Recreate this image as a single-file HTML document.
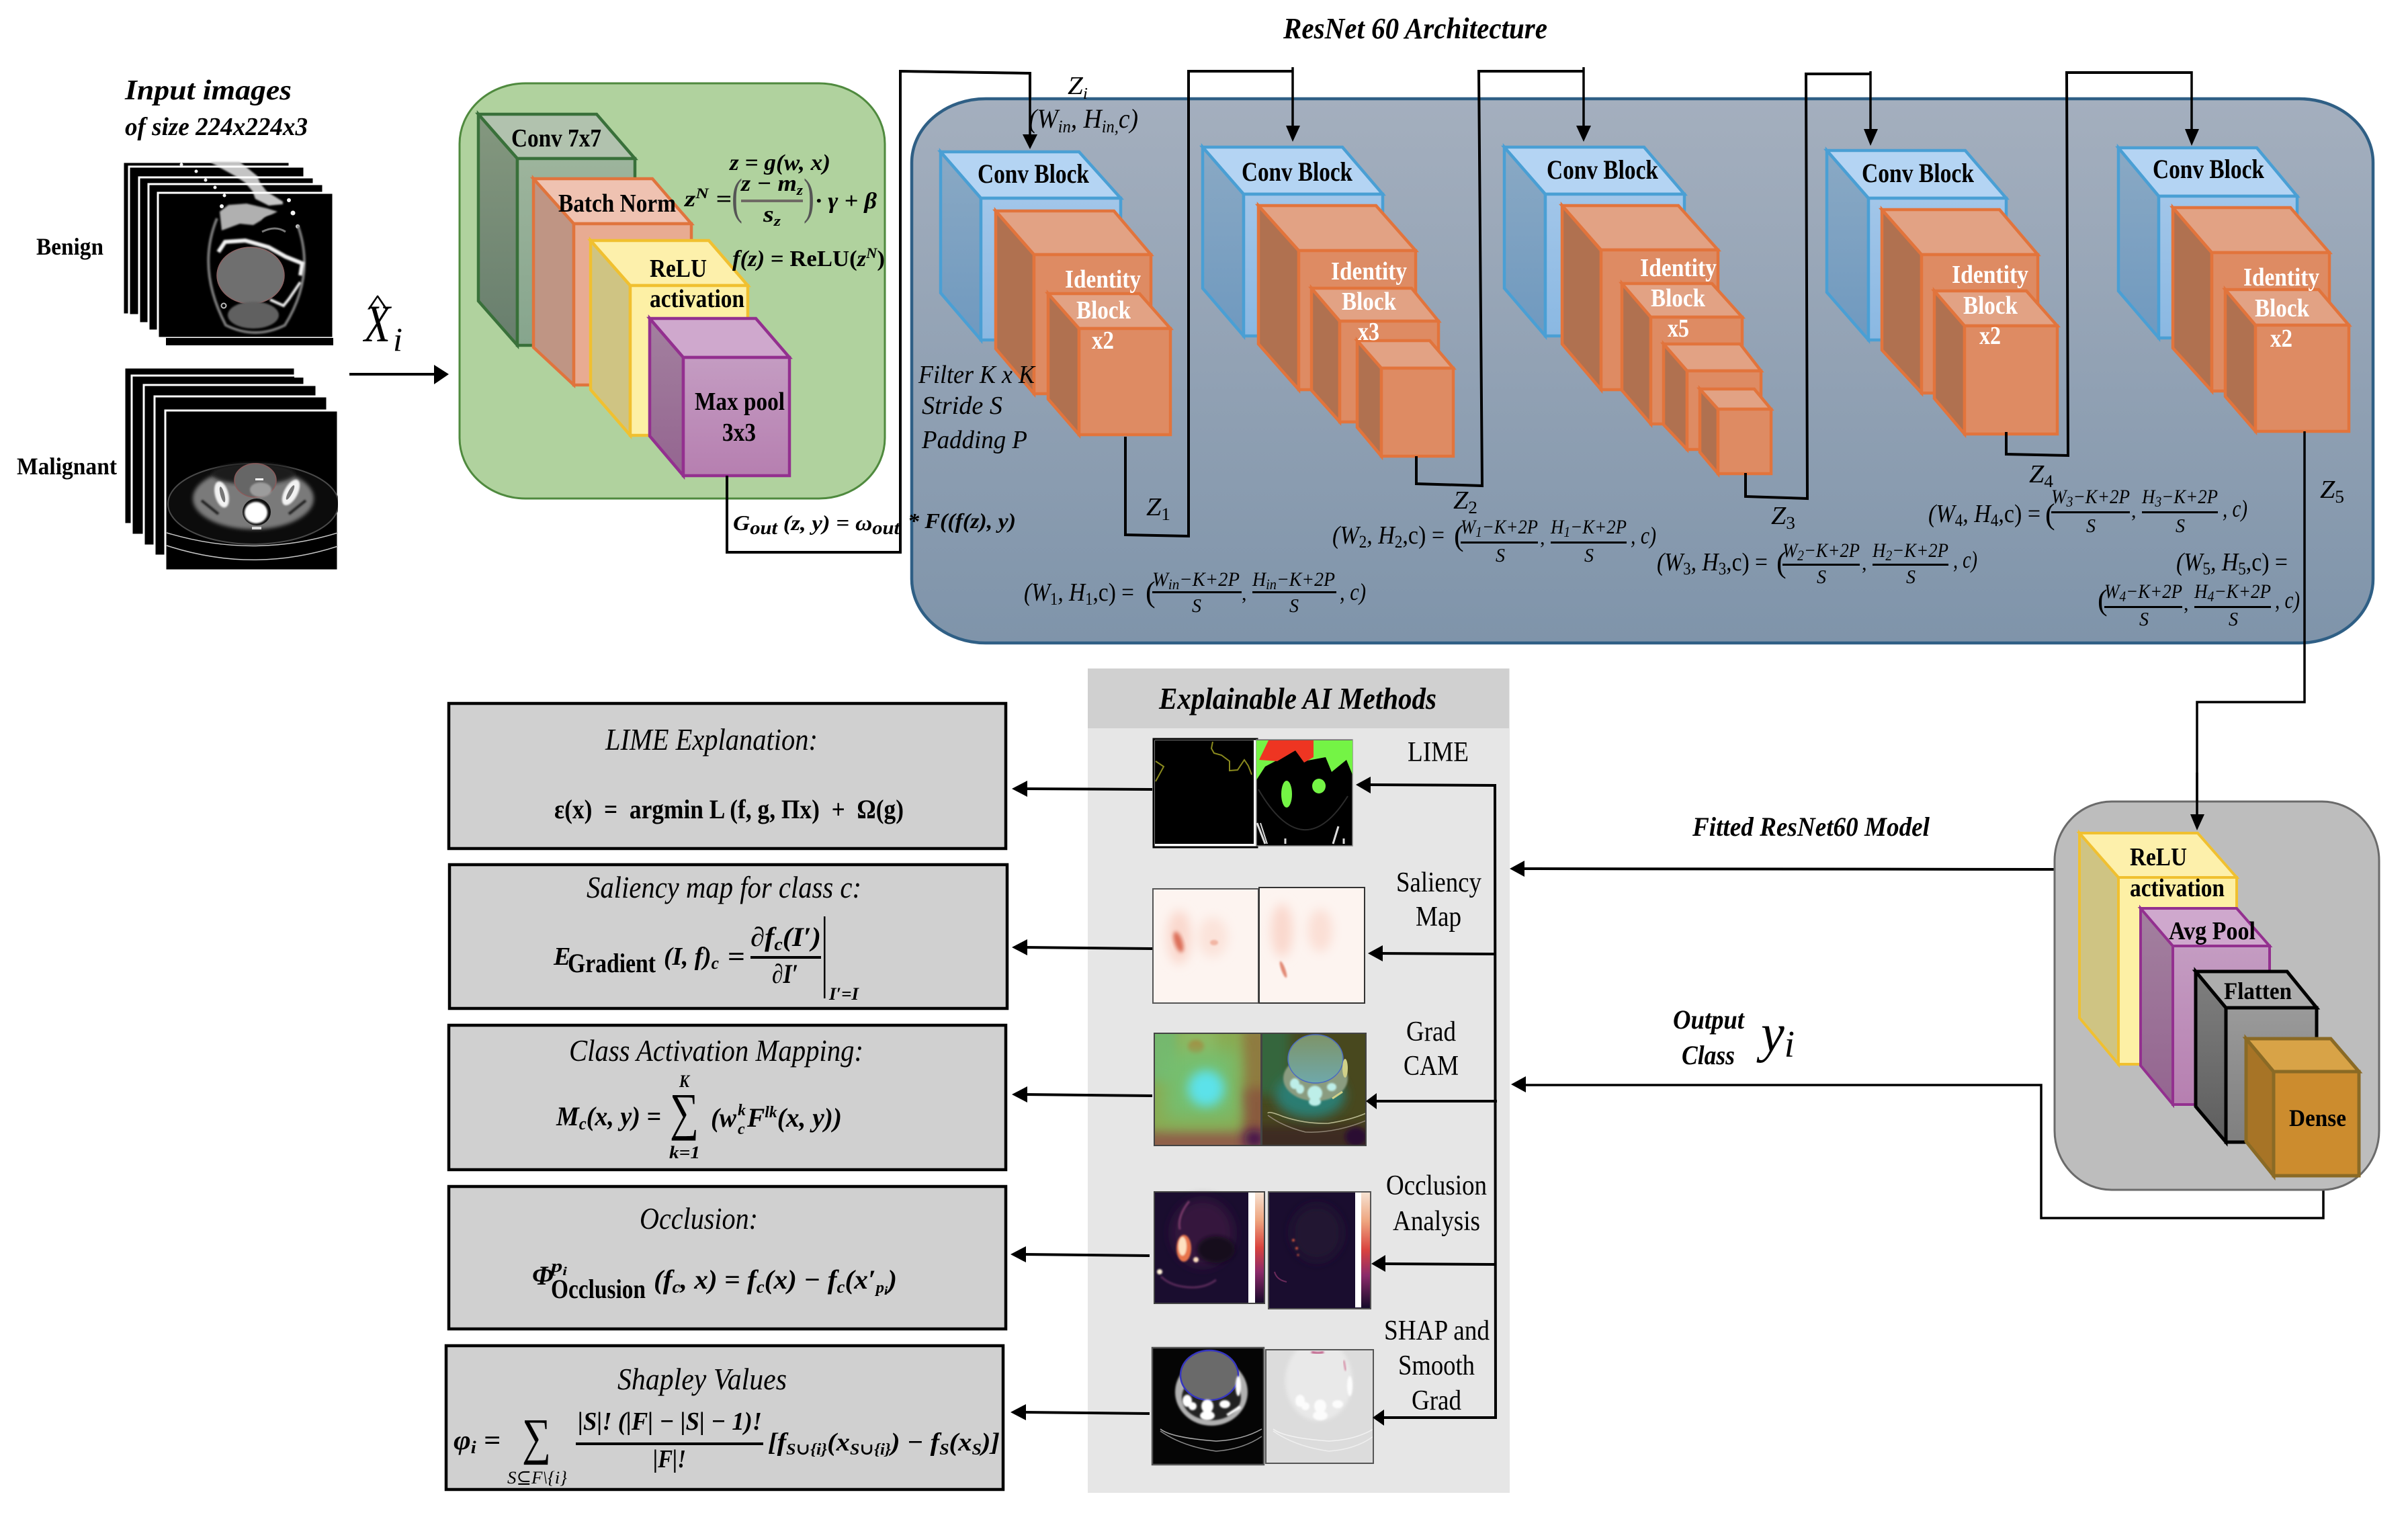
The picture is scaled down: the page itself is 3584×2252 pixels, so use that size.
<!DOCTYPE html>
<html><head><meta charset="utf-8"><style>
html,body{margin:0;padding:0;background:#fff;width:3584px;height:2252px;overflow:hidden}
svg{display:block}
text{font-family:"Liberation Serif","DejaVu Serif",serif;fill:#000}
.b{font-weight:700}.i{font-style:italic}.bi{font-weight:700;font-style:italic}
.w{fill:#fff;font-weight:700}
.l{fill:none;stroke:#000;stroke-width:4;stroke-linejoin:miter}
.l4{fill:none;stroke:#000;stroke-width:3.5}
.bs{fill:url(#blS);stroke:#4a9fd4;stroke-width:4.5}.bt{fill:#b4d4f3;stroke:#4a9fd4;stroke-width:4.5}.bf{fill:url(#blF);stroke:#4a9fd4;stroke-width:4.5}
.os{fill:#b07150;stroke:#e2743c;stroke-width:4.5}.ot{fill:#e2a284;stroke:#e2743c;stroke-width:4.5}.of{fill:#de8b63;stroke:#e2743c;stroke-width:4.5}
.bx{fill:#d0d0d0;stroke:#000;stroke-width:4.5}
</style></head><body>
<svg xmlns="http://www.w3.org/2000/svg" width="3584" height="2252" viewBox="0 0 3584 2252">
<defs>
<linearGradient id="blS" x1="0" y1="0" x2="0" y2="1"><stop offset="0" stop-color="#8aa9c4"/><stop offset="1" stop-color="#6f99bf"/></linearGradient>
<linearGradient id="blF" x1="0" y1="0" x2="0" y2="1"><stop offset="0" stop-color="#a2c6e9"/><stop offset="1" stop-color="#8ab8e2"/></linearGradient>
<linearGradient id="pan" x1="0" y1="0" x2="0" y2="1"><stop offset="0" stop-color="#a4afbe"/><stop offset="1" stop-color="#7f94aa"/></linearGradient>
<linearGradient id="cvF" x1="0" y1="0" x2="0" y2="1"><stop offset="0" stop-color="#9db49c"/><stop offset="1" stop-color="#86a58d"/></linearGradient>
<linearGradient id="cvS" x1="0" y1="0" x2="0" y2="1"><stop offset="0" stop-color="#84987f"/><stop offset="1" stop-color="#687e6d"/></linearGradient>
<linearGradient id="mpF" x1="0" y1="0" x2="0" y2="1"><stop offset="0" stop-color="#c49cc2"/><stop offset="1" stop-color="#b67fb0"/></linearGradient>
<linearGradient id="mpS" x1="0" y1="0" x2="0" y2="1"><stop offset="0" stop-color="#a3809f"/><stop offset="1" stop-color="#946590"/></linearGradient>
<linearGradient id="flF" x1="0" y1="0" x2="0" y2="1"><stop offset="0" stop-color="#9a9a9a"/><stop offset="1" stop-color="#7f7f7f"/></linearGradient>
<linearGradient id="flS" x1="0" y1="0" x2="0" y2="1"><stop offset="0" stop-color="#7f7f7f"/><stop offset="1" stop-color="#5e5e5e"/></linearGradient>
<linearGradient id="cbar" x1="0" y1="0" x2="0" y2="1"><stop offset="0" stop-color="#f6e2d2"/><stop offset=".25" stop-color="#eea57f"/><stop offset=".5" stop-color="#d9433f"/><stop offset=".72" stop-color="#8c2a6a"/><stop offset="1" stop-color="#170a2b"/></linearGradient>
<linearGradient id="tumG" x1="0" y1="0" x2="0" y2="1"><stop offset="0" stop-color="#7e9468"/><stop offset="1" stop-color="#6fa8aa"/></linearGradient>
<filter id="f1" x="-30%" y="-30%" width="160%" height="160%"><feGaussianBlur stdDeviation="1.2"/></filter>
<filter id="f3" x="-30%" y="-30%" width="160%" height="160%"><feGaussianBlur stdDeviation="3"/></filter>
<filter id="f8" x="-50%" y="-50%" width="200%" height="200%"><feGaussianBlur stdDeviation="8"/></filter>
<filter id="f14" x="-60%" y="-60%" width="220%" height="220%"><feGaussianBlur stdDeviation="14"/></filter>
<clipPath id="cG1"><rect x="1718" y="1538" width="159" height="167"/></clipPath>
<clipPath id="cG2"><rect x="1878" y="1538" width="155" height="167"/></clipPath>
<clipPath id="cB"><rect x="236" y="288" width="260" height="226"/></clipPath>
<clipPath id="cM"><rect x="247" y="612" width="256" height="237"/></clipPath>
<clipPath id="cS1"><rect x="1716" y="1323" width="157" height="170"/></clipPath>
<clipPath id="cS2"><rect x="1874" y="1321" width="157" height="172"/></clipPath>
<clipPath id="cH1"><rect x="1716" y="2007" width="164" height="172"/></clipPath>
<clipPath id="cH2"><rect x="1885" y="2010" width="158" height="167"/></clipPath>
</defs>
<rect width="3584" height="2252" fill="#fff"/>

<!-- Title and input stacks -->
<text class="bi" x="186" y="148" font-size="42" textLength="248" lengthAdjust="spacingAndGlyphs">Input images</text>
<text class="bi" x="186" y="201" font-size="38" textLength="272" lengthAdjust="spacingAndGlyphs">of size 224x224x3</text>
<text class="b" x="54" y="379" font-size="36" textLength="100" lengthAdjust="spacingAndGlyphs">Benign</text>
<text class="b" x="25" y="706" font-size="36" textLength="149" lengthAdjust="spacingAndGlyphs">Malignant</text>

<g stroke="#fff" stroke-width="3">
<rect x="183" y="241" width="248" height="227"/>
<rect x="192" y="248" width="261" height="221"/>
<rect x="207" y="264" width="260" height="217"/>
<rect x="221" y="274" width="260" height="218"/>
<rect x="235" y="287" width="261" height="216"/>
</g>
<rect x="247" y="503" width="249" height="11"/>
<polygon points="312,241 357,241 383,262 387,272 397,285 421,300 421,304 400,306 380,296 376,285 365,272 350,262" fill="#c4c4c4" filter="url(#f1)"/>
<g stroke="#fff" stroke-width="3"><line x1="310" y1="248" x2="375" y2="248"/><line x1="340" y1="264" x2="392" y2="264"/><line x1="355" y1="274" x2="396" y2="274"/><line x1="365" y1="287" x2="408" y2="287"/></g>
<g fill="#f4f4f4"><circle cx="270" cy="245" r="2.5"/><circle cx="292" cy="255" r="2.5"/><circle cx="306" cy="268" r="2.5"/><circle cx="320" cy="279" r="2.5"/><circle cx="334" cy="291" r="2.5"/><circle cx="330" cy="307" r="3"/><circle cx="430" cy="298" r="3"/><circle cx="436" cy="317" r="3.5"/><circle cx="443" cy="337" r="3"/></g>
<g clip-path="url(#cB)">
<path d="M323,325 Q292,400 336,484 Q380,506 424,484 Q470,410 443,335" fill="none" stroke="#7c7c7c" stroke-width="4" filter="url(#f1)"/>
<polygon points="327,315 340,305 367,303 397,310 413,315 397,323 377,335 357,333 330,343" fill="#b0b0b0" filter="url(#f1)"/>
<ellipse cx="405" cy="330" rx="15" ry="9" fill="#000" filter="url(#f1)"/>
<path d="M390 345 Q410 335 425 345" fill="none" stroke="#777" stroke-width="3"/>
<path d="M325,375 L335,360 L365,358 L400,368 L425,382 L450,392 L447,410" fill="none" stroke="#f2f2f2" stroke-width="6" filter="url(#f1)"/>
<path d="M447,420 L430,445 L422,455 L402,446" fill="none" stroke="#ececec" stroke-width="4" filter="url(#f1)"/>
<ellipse cx="373" cy="410" rx="50" ry="42" fill="#6f6f6f" stroke="#8b6262" stroke-width="1.5"/>
<ellipse cx="377" cy="469" rx="38" ry="20" fill="#606060" filter="url(#f1)"/>
<circle cx="333" cy="455" r="3.5" fill="none" stroke="#bbb" stroke-width="2"/>
</g>

<g stroke="#fff" stroke-width="3">
<rect x="185" y="547" width="254" height="233"/>
<rect x="196" y="559" width="257" height="237"/>
<rect x="214" y="573" width="257" height="239"/>
<rect x="230" y="590" width="257" height="237"/>
<rect x="246" y="611" width="257" height="238"/>
</g>
<rect x="438" y="556" width="16" height="6" fill="#fff"/>
<g clip-path="url(#cM)">
<ellipse cx="377" cy="750" rx="127" ry="60" fill="#0c0c0c" stroke="#4a4a4a" stroke-width="2"/>
<ellipse cx="377" cy="742" rx="90" ry="46" fill="#7a7a7a" filter="url(#f3)"/>
<ellipse cx="377" cy="705" rx="62" ry="16" fill="#1c1c1c" filter="url(#f3)"/>
<path d="M300 745 L325 765 M455 745 L430 765" stroke="#222" stroke-width="4" filter="url(#f1)"/>
<ellipse cx="380" cy="715" rx="31" ry="25" fill="#666" stroke="#8b5a5a" stroke-width="1.5"/>
<ellipse cx="388" cy="729" rx="16" ry="11" fill="#9c9c9c" filter="url(#f1)"/>
<rect x="380" y="712" width="12" height="3" fill="#fff"/>
<ellipse cx="330" cy="736" rx="10" ry="20" fill="#f2f2f2" transform="rotate(-15 330 736)" filter="url(#f1)"/>
<ellipse cx="331" cy="736" rx="3" ry="12" fill="#777" transform="rotate(-15 331 736)"/>
<ellipse cx="433" cy="733" rx="10" ry="21" fill="#f2f2f2" transform="rotate(28 433 733)" filter="url(#f1)"/>
<ellipse cx="432" cy="733" rx="3" ry="12" fill="#777" transform="rotate(28 432 733)"/>
<ellipse cx="382" cy="762" rx="21" ry="20" fill="#111"/>
<ellipse cx="381" cy="763" rx="17" ry="16" fill="#fff" filter="url(#f1)"/>
<rect x="375" y="784" width="14" height="4" fill="#ddd"/>
<path d="M248 793 Q377 832 503 793" fill="none" stroke="#c8c8c8" stroke-width="1.5"/>
<path d="M248 812 Q377 854 503 813" fill="none" stroke="#c8c8c8" stroke-width="1.5"/>
</g>

<!-- Input arrow -->
<text class="i" x="542" y="508" font-size="78" textLength="39" lengthAdjust="spacingAndGlyphs">X</text>
<text x="546" y="469" font-size="44" textLength="32" lengthAdjust="spacingAndGlyphs">^</text>
<text class="i" x="585" y="522" font-size="50" textLength="14" lengthAdjust="spacingAndGlyphs">i</text>
<line class="l" x1="520" y1="557" x2="650" y2="557"/>
<polygon points="646,543 668,557 646,572"/>

<!-- Green block -->
<rect x="684" y="124" width="633" height="618" rx="98" ry="90" fill="#b0d29e" stroke="#4f8a3e" stroke-width="3"/>
<g stroke="#39703a" stroke-width="4.5">
<polygon points="712,170 770,236 770,514 712,448" fill="url(#cvS)"/>
<polygon points="712,170 888,170 945,236 770,236" fill="#b1c2ae"/>
<rect x="770" y="236" width="175" height="278" fill="url(#cvF)"/>
</g>
<g stroke="#e0743d" stroke-width="4.5">
<polygon points="794,266 854,333 854,573 794,517" fill="#bf9584"/>
<polygon points="794,266 971,266 1029,333 854,333" fill="#efc2b1"/>
<rect x="854" y="333" width="175" height="240" fill="#e8ab92"/>
</g>
<g stroke="#f0c030" stroke-width="4.5">
<polygon points="879,358 938,425 938,648 879,580" fill="#cfc483"/>
<polygon points="879,358 1055,358 1113,425 938,425" fill="#fdf0ab"/>
<rect x="938" y="425" width="175" height="223" fill="#fdf0a5"/>
</g>
<g stroke="#93308f" stroke-width="4.5">
<polygon points="967,474 1017,532 1017,708 967,649" fill="url(#mpS)"/>
<polygon points="967,474 1125,474 1175,532 1017,532" fill="#cfa8cd"/>
<rect x="1017" y="532" width="158" height="176" fill="url(#mpF)"/>
</g>
<text class="b" x="761" y="218" font-size="38" textLength="134" lengthAdjust="spacingAndGlyphs">Conv 7x7</text>
<text class="b" x="831" y="315" font-size="38" textLength="175" lengthAdjust="spacingAndGlyphs">Batch Norm</text>
<text class="b" x="967" y="412" font-size="38" textLength="85" lengthAdjust="spacingAndGlyphs">ReLU</text>
<text class="b" x="967" y="457" font-size="38" textLength="141" lengthAdjust="spacingAndGlyphs">activation</text>
<text class="b" x="1034" y="610" font-size="38" textLength="134" lengthAdjust="spacingAndGlyphs">Max pool</text>
<text class="b" x="1075" y="656" font-size="38" textLength="50" lengthAdjust="spacingAndGlyphs">3x3</text>
<text class="bi" x="1086" y="253" font-size="34" textLength="150" lengthAdjust="spacingAndGlyphs">z = g(w, x)</text>
<text class="bi" x="1019" y="307" font-size="34" textLength="70" lengthAdjust="spacingAndGlyphs">z<tspan dy="-12" font-size="22">N</tspan><tspan dy="12"> =</tspan></text>
<text x="1089" y="317" font-size="74" textLength="16" lengthAdjust="spacingAndGlyphs" style="fill:#555">(</text>
<text class="bi" x="1103" y="284" font-size="34" textLength="92" lengthAdjust="spacingAndGlyphs">z − m<tspan dy="6" font-size="22">z</tspan></text>
<rect x="1103" y="297" width="92" height="4" fill="#6e6a64"/>
<text class="bi" x="1136" y="330" font-size="34" textLength="26" lengthAdjust="spacingAndGlyphs">s<tspan dy="6" font-size="22">z</tspan></text>
<text x="1196" y="317" font-size="74" textLength="16" lengthAdjust="spacingAndGlyphs" style="fill:#555">)</text>
<text class="bi" x="1214" y="310" font-size="34" textLength="91" lengthAdjust="spacingAndGlyphs">· γ + β</text>
<text class="b" x="1090" y="396" font-size="34" textLength="227" lengthAdjust="spacingAndGlyphs"><tspan class="bi">f(z)</tspan> = ReLU(<tspan class="bi">z</tspan><tspan class="bi" dy="-12" font-size="22">N</tspan><tspan dy="12">)</tspan></text>

<polyline class="l" points="1082,708 1082,822 1340,822 1340,106 1533,109 1533,205"/>
<polygon points="1522,200 1544,200 1533,222"/>

<!-- Blue panel -->
<rect x="1357" y="147" width="2175" height="810" rx="110" ry="95" fill="url(#pan)" stroke="#2f5f85" stroke-width="4.5"/>
<polyline class="l4" points="1340,106 1533,109 1533,205"/>
<polygon points="1522,200 1544,200 1533,222"/>
<line class="l" x1="1340" y1="106" x2="1340" y2="824"/>
<text class="bi" x="1091" y="789" font-size="32" textLength="248" lengthAdjust="spacingAndGlyphs">G<tspan class="b" dy="6" font-size="28">out</tspan><tspan dy="-6"> (z, y) = ω</tspan><tspan class="b" dy="6" font-size="28">out</tspan></text>
<text class="bi" x="1351" y="786" font-size="32" textLength="161" lengthAdjust="spacingAndGlyphs">* F((f(z), y)</text>

<text class="bi" x="1910" y="57" font-size="44" textLength="393" lengthAdjust="spacingAndGlyphs">ResNet 60 Architecture</text>
<text class="i" x="1589" y="140" font-size="38" textLength="30" lengthAdjust="spacingAndGlyphs">Z<tspan dy="7" font-size="24">i</tspan></text>
<text class="i" x="1531" y="190" font-size="40" textLength="163" lengthAdjust="spacingAndGlyphs">(W<tspan dy="7" font-size="26">in</tspan><tspan dy="-7">, H</tspan><tspan dy="7" font-size="26">in,</tspan><tspan dy="-7">c)</tspan></text>

<!-- Block 1 -->
<polygon class="bs" points="1400,226 1460,295 1460,506 1400,436"/><polygon class="bt" points="1400,226 1606,226 1668,295 1460,295"/><rect class="bf" x="1460" y="295" width="208" height="211"/>
<polygon class="os" points="1482,314 1539,379 1539,586 1482,519"/><polygon class="ot" points="1482,314 1658,314 1713,379 1539,379"/><rect class="of" x="1539" y="379" width="174" height="207"/>
<polygon class="os" points="1560,437 1606,489 1606,647 1560,594"/><polygon class="ot" points="1560,437 1696,437 1742,489 1606,489"/><rect class="of" x="1606" y="489" width="136" height="158"/>
<text class="b" x="1455" y="272" font-size="40" textLength="166" lengthAdjust="spacingAndGlyphs">Conv Block</text>
<text class="w" x="1585" y="428" font-size="38" textLength="113" lengthAdjust="spacingAndGlyphs">Identity</text>
<text class="w" x="1602" y="474" font-size="38" textLength="81" lengthAdjust="spacingAndGlyphs">Block</text>
<text class="w" x="1625" y="519" font-size="38" textLength="33" lengthAdjust="spacingAndGlyphs">x2</text>
<text class="i" x="1367" y="570" font-size="38" textLength="173" lengthAdjust="spacingAndGlyphs">Filter K x K</text>
<text class="i" x="1372" y="616" font-size="38" textLength="120" lengthAdjust="spacingAndGlyphs">Stride S</text>
<text class="i" x="1372" y="667" font-size="38" textLength="157" lengthAdjust="spacingAndGlyphs">Padding P</text>

<!-- Block 2 -->
<polygon class="bs" points="1790,219 1851,289 1851,500 1790,429"/><polygon class="bt" points="1790,219 1998,219 2058,289 1851,289"/><rect class="bf" x="1851" y="289" width="207" height="211"/>
<polygon class="os" points="1873,306 1933,373 1933,580 1873,512"/><polygon class="ot" points="1873,306 2048,306 2107,373 1933,373"/><rect class="of" x="1933" y="373" width="174" height="207"/>
<polygon class="os" points="1952,429 1994,478 1994,628 1952,581"/><polygon class="ot" points="1952,429 2101,429 2141,478 1994,478"/><rect class="of" x="1994" y="478" width="147" height="150"/>
<polygon class="os" points="2020,507 2056,548 2056,679 2020,636"/><polygon class="ot" points="2020,507 2128,507 2163,548 2056,548"/><rect class="of" x="2056" y="548" width="107" height="131"/>
<text class="b" x="1848" y="269" font-size="40" textLength="165" lengthAdjust="spacingAndGlyphs">Conv Block</text>
<text class="w" x="1981" y="416" font-size="38" textLength="113" lengthAdjust="spacingAndGlyphs">Identity</text>
<text class="w" x="1997" y="461" font-size="38" textLength="81" lengthAdjust="spacingAndGlyphs">Block</text>
<text class="w" x="2021" y="506" font-size="38" textLength="32" lengthAdjust="spacingAndGlyphs">x3</text>

<!-- Block 3 -->
<polygon class="bs" points="2239,219 2300,289 2300,500 2239,429"/><polygon class="bt" points="2239,219 2447,219 2507,289 2300,289"/><rect class="bf" x="2300" y="289" width="207" height="211"/>
<polygon class="os" points="2325,306 2383,373 2383,580 2325,512"/><polygon class="ot" points="2325,306 2498,306 2557,372 2383,372"/><rect class="of" x="2383" y="372" width="174" height="208"/>
<polygon class="os" points="2414,422 2457,472 2457,631 2414,581"/><polygon class="ot" points="2414,422 2548,422 2593,472 2457,472"/><rect class="of" x="2457" y="472" width="136" height="159"/>
<polygon class="os" points="2476,512 2511,552 2511,669 2476,632"/><polygon class="ot" points="2476,512 2590,512 2621,552 2511,552"/><rect class="of" x="2511" y="552" width="110" height="117"/>
<polygon class="os" points="2530,579 2557,609 2557,705 2530,673"/><polygon class="ot" points="2530,579 2611,579 2636,609 2557,609"/><rect class="of" x="2557" y="609" width="79" height="96"/>
<text class="b" x="2302" y="266" font-size="40" textLength="166" lengthAdjust="spacingAndGlyphs">Conv Block</text>
<text class="w" x="2441" y="411" font-size="38" textLength="114" lengthAdjust="spacingAndGlyphs">Identity</text>
<text class="w" x="2457" y="456" font-size="38" textLength="81" lengthAdjust="spacingAndGlyphs">Block</text>
<text class="w" x="2482" y="501" font-size="38" textLength="32" lengthAdjust="spacingAndGlyphs">x5</text>

<!-- Block 4 -->
<polygon class="bs" points="2719,224 2781,295 2781,506 2719,435"/><polygon class="bt" points="2719,224 2925,224 2986,295 2781,295"/><rect class="bf" x="2781" y="295" width="205" height="211"/>
<polygon class="os" points="2801,312 2860,379 2860,585 2801,521"/><polygon class="ot" points="2801,312 2976,312 3033,379 2860,379"/><rect class="of" x="2860" y="379" width="173" height="206"/>
<polygon class="os" points="2879,433 2924,485 2924,646 2879,593"/><polygon class="ot" points="2879,433 3016,433 3062,485 2924,485"/><rect class="of" x="2924" y="485" width="138" height="161"/>
<text class="b" x="2771" y="271" font-size="40" textLength="167" lengthAdjust="spacingAndGlyphs">Conv Block</text>
<text class="w" x="2905" y="421" font-size="38" textLength="114" lengthAdjust="spacingAndGlyphs">Identity</text>
<text class="w" x="2922" y="467" font-size="38" textLength="81" lengthAdjust="spacingAndGlyphs">Block</text>
<text class="w" x="2946" y="512" font-size="38" textLength="32" lengthAdjust="spacingAndGlyphs">x2</text>

<!-- Block 5 -->
<polygon class="bs" points="3153,220 3213,292 3213,503 3153,433"/><polygon class="bt" points="3153,220 3359,220 3419,292 3213,292"/><rect class="bf" x="3213" y="292" width="206" height="211"/>
<polygon class="os" points="3234,309 3292,376 3292,582 3234,518"/><polygon class="ot" points="3234,309 3409,309 3467,376 3292,376"/><rect class="of" x="3292" y="376" width="175" height="206"/>
<polygon class="os" points="3312,431 3357,484 3357,642 3312,590"/><polygon class="ot" points="3312,431 3451,431 3496,484 3357,484"/><rect class="of" x="3357" y="484" width="139" height="158"/>
<text class="b" x="3204" y="265" font-size="40" textLength="166" lengthAdjust="spacingAndGlyphs">Conv Block</text>
<text class="w" x="3339" y="425" font-size="38" textLength="113" lengthAdjust="spacingAndGlyphs">Identity</text>
<text class="w" x="3356" y="471" font-size="38" textLength="81" lengthAdjust="spacingAndGlyphs">Block</text>
<text class="w" x="3379" y="516" font-size="38" textLength="33" lengthAdjust="spacingAndGlyphs">x2</text>

<!-- Connectors between blocks -->
<polyline class="l" points="1675,650 1675,796 1769,798 1769,106 1924,106"/>
<line class="l4" x1="1924" y1="100" x2="1924" y2="195"/><polygon points="1914,187 1935,187 1924,211"/>
<polyline class="l" points="2108,679 2108,720 2206,723 2201,106 2357,106"/>
<line class="l4" x1="2357" y1="100" x2="2357" y2="195"/><polygon points="2346,187 2368,187 2357,211"/>
<polyline class="l" points="2598,704 2598,739 2690,742 2688,110 2784,110"/>
<line class="l4" x1="2784" y1="106" x2="2784" y2="200"/><polygon points="2774,192 2795,192 2784,217"/>
<polyline class="l" points="2986,643 2986,676 3078,678 3076,108 3262,108"/>
<line class="l4" x1="3262" y1="106" x2="3262" y2="200"/><polygon points="3252,192 3273,192 3262,217"/>
<polyline class="l4" points="3430,642 3430,1045 3270,1045 3270,1220"/>
<polygon points="3260,1212 3281,1212 3270,1236"/>

<!-- Z labels -->
<text class="i" x="1706" y="767" font-size="38" textLength="36" lengthAdjust="spacingAndGlyphs">Z<tspan dy="7" font-size="26" style="font-style:normal">1</tspan></text>
<text class="i" x="2163" y="757" font-size="38" textLength="36" lengthAdjust="spacingAndGlyphs">Z<tspan dy="7" font-size="26" style="font-style:normal">2</tspan></text>
<text class="i" x="2636" y="780" font-size="38" textLength="36" lengthAdjust="spacingAndGlyphs">Z<tspan dy="7" font-size="26" style="font-style:normal">3</tspan></text>
<text class="i" x="3020" y="718" font-size="38" textLength="36" lengthAdjust="spacingAndGlyphs">Z<tspan dy="7" font-size="26" style="font-style:normal">4</tspan></text>
<text class="i" x="3453" y="741" font-size="38" textLength="36" lengthAdjust="spacingAndGlyphs">Z<tspan dy="7" font-size="26" style="font-style:normal">5</tspan></text>

<!-- Formula 1 -->
<text x="1524" y="894" font-size="38" textLength="164" lengthAdjust="spacingAndGlyphs"><tspan class="i">(W</tspan><tspan dy="6" font-size="26">1</tspan><tspan dy="-6" class="i">, H</tspan><tspan dy="6" font-size="26">1</tspan><tspan dy="-6">,c) =</tspan></text>
<text x="1705" y="896" font-size="44">(</text>
<text class="i" x="1715" y="872" font-size="30" textLength="130" lengthAdjust="spacingAndGlyphs">W<tspan dy="5" font-size="22">in</tspan><tspan dy="-5">−K+2P</tspan></text>
<rect x="1715" y="880" width="133" height="3"/>
<text class="i" x="1774" y="911" font-size="28">S</text>
<text x="1848" y="893" font-size="30">,</text>
<text class="i" x="1864" y="872" font-size="30" textLength="123" lengthAdjust="spacingAndGlyphs">H<tspan dy="5" font-size="22">in</tspan><tspan dy="-5">−K+2P</tspan></text>
<rect x="1864" y="880" width="125" height="3"/>
<text class="i" x="1919" y="911" font-size="28">S</text>
<text class="i" x="1994" y="893" font-size="36" textLength="39" lengthAdjust="spacingAndGlyphs">, c)</text>

<!-- Formula 2 -->
<text x="1983" y="809" font-size="38" textLength="167" lengthAdjust="spacingAndGlyphs"><tspan class="i">(W</tspan><tspan dy="6" font-size="26">2</tspan><tspan dy="-6" class="i">, H</tspan><tspan dy="6" font-size="26">2</tspan><tspan dy="-6">,c) =</tspan></text>
<text x="2164" y="812" font-size="44">(</text>
<text class="i" x="2174" y="794" font-size="30" textLength="115" lengthAdjust="spacingAndGlyphs">W<tspan dy="5" font-size="22">1</tspan><tspan dy="-5">−K+2P</tspan></text>
<rect x="2174" y="806" width="115" height="3"/>
<text class="i" x="2226" y="836" font-size="28">S</text>
<text x="2292" y="810" font-size="30">,</text>
<text class="i" x="2308" y="794" font-size="30" textLength="113" lengthAdjust="spacingAndGlyphs">H<tspan dy="5" font-size="22">1</tspan><tspan dy="-5">−K+2P</tspan></text>
<rect x="2308" y="806" width="113" height="3"/>
<text class="i" x="2358" y="836" font-size="28">S</text>
<text class="i" x="2427" y="809" font-size="36" textLength="38" lengthAdjust="spacingAndGlyphs">, c)</text>

<!-- Formula 3 -->
<text x="2466" y="849" font-size="38" textLength="165" lengthAdjust="spacingAndGlyphs"><tspan class="i">(W</tspan><tspan dy="6" font-size="26">3</tspan><tspan dy="-6" class="i">, H</tspan><tspan dy="6" font-size="26">3</tspan><tspan dy="-6">,c) =</tspan></text>
<text x="2644" y="852" font-size="44">(</text>
<text class="i" x="2653" y="829" font-size="30" textLength="115" lengthAdjust="spacingAndGlyphs">W<tspan dy="5" font-size="22">2</tspan><tspan dy="-5">−K+2P</tspan></text>
<rect x="2653" y="839" width="115" height="3"/>
<text class="i" x="2704" y="868" font-size="28">S</text>
<text x="2771" y="848" font-size="30">,</text>
<text class="i" x="2787" y="829" font-size="30" textLength="113" lengthAdjust="spacingAndGlyphs">H<tspan dy="5" font-size="22">2</tspan><tspan dy="-5">−K+2P</tspan></text>
<rect x="2787" y="839" width="113" height="3"/>
<text class="i" x="2837" y="868" font-size="28">S</text>
<text class="i" x="2907" y="845" font-size="36" textLength="36" lengthAdjust="spacingAndGlyphs">, c)</text>

<!-- Formula 4 -->
<text x="2870" y="777" font-size="38" textLength="167" lengthAdjust="spacingAndGlyphs"><tspan class="i">(W</tspan><tspan dy="6" font-size="26">4</tspan><tspan dy="-6" class="i">, H</tspan><tspan dy="6" font-size="26">4</tspan><tspan dy="-6">,c) =</tspan></text>
<text x="3044" y="780" font-size="44">(</text>
<text class="i" x="3053" y="749" font-size="30" textLength="117" lengthAdjust="spacingAndGlyphs">W<tspan dy="5" font-size="22">3</tspan><tspan dy="-5">−K+2P</tspan></text>
<rect x="3053" y="761" width="117" height="3"/>
<text class="i" x="3105" y="792" font-size="28">S</text>
<text x="3172" y="770" font-size="30">,</text>
<text class="i" x="3188" y="749" font-size="30" textLength="113" lengthAdjust="spacingAndGlyphs">H<tspan dy="5" font-size="22">3</tspan><tspan dy="-5">−K+2P</tspan></text>
<rect x="3188" y="761" width="113" height="3"/>
<text class="i" x="3238" y="792" font-size="28">S</text>
<text class="i" x="3308" y="769" font-size="36" textLength="37" lengthAdjust="spacingAndGlyphs">, c)</text>

<!-- Formula 5 -->
<text x="3239" y="849" font-size="38" textLength="166" lengthAdjust="spacingAndGlyphs"><tspan class="i">(W</tspan><tspan dy="6" font-size="26">5</tspan><tspan dy="-6" class="i">, H</tspan><tspan dy="6" font-size="26">5</tspan><tspan dy="-6">,c) =</tspan></text>
<text x="3122" y="908" font-size="44">(</text>
<text class="i" x="3132" y="890" font-size="30" textLength="116" lengthAdjust="spacingAndGlyphs">W<tspan dy="5" font-size="22">4</tspan><tspan dy="-5">−K+2P</tspan></text>
<rect x="3132" y="902" width="116" height="3"/>
<text class="i" x="3184" y="931" font-size="28">S</text>
<text x="3250" y="908" font-size="30">,</text>
<text class="i" x="3266" y="890" font-size="30" textLength="114" lengthAdjust="spacingAndGlyphs">H<tspan dy="5" font-size="22">4</tspan><tspan dy="-5">−K+2P</tspan></text>
<rect x="3266" y="902" width="114" height="3"/>
<text class="i" x="3317" y="931" font-size="28">S</text>
<text class="i" x="3386" y="905" font-size="36" textLength="37" lengthAdjust="spacingAndGlyphs">, c)</text>

<!-- Left equation boxes -->
<rect class="bx" x="668" y="1047" width="829" height="216"/>
<rect class="bx" x="669" y="1287" width="830" height="214"/>
<rect class="bx" x="668" y="1526" width="829" height="215"/>
<rect class="bx" x="668" y="1766" width="829" height="212"/>
<rect class="bx" x="664" y="2003" width="829" height="214"/>

<text class="i" x="901" y="1116" font-size="46" textLength="316" lengthAdjust="spacingAndGlyphs">LIME Explanation:</text>
<text class="b" x="825" y="1218" font-size="40" textLength="520" lengthAdjust="spacingAndGlyphs" xml:space="preserve">ε(x)  =  argmin L (f, g, Πx)  +  Ω(g)</text>

<text class="i" x="873" y="1336" font-size="46" textLength="409" lengthAdjust="spacingAndGlyphs">Saliency map for class c:</text>
<text class="bi" x="824" y="1436" font-size="38">E</text>
<text class="b" x="845" y="1447" font-size="40" textLength="131" lengthAdjust="spacingAndGlyphs">Gradient</text>
<text class="bi" x="988" y="1436" font-size="38" textLength="82" lengthAdjust="spacingAndGlyphs">(I, f)<tspan dy="6" font-size="26">c</tspan></text>
<text class="b" x="1083" y="1437" font-size="40" textLength="26" lengthAdjust="spacingAndGlyphs">=</text>
<text class="bi" x="1117" y="1408" font-size="40" textLength="105" lengthAdjust="spacingAndGlyphs">∂f<tspan dy="6" font-size="26">c</tspan><tspan dy="-6">(I′)</tspan></text>
<rect x="1117" y="1423" width="105" height="4"/>
<text class="bi" x="1149" y="1463" font-size="40" textLength="39" lengthAdjust="spacingAndGlyphs">∂I′</text>
<rect x="1226" y="1364" width="2.5" height="122"/>
<text class="bi" x="1234" y="1488" font-size="26" textLength="44" lengthAdjust="spacingAndGlyphs">I′=I</text>

<text class="i" x="847" y="1579" font-size="46" textLength="438" lengthAdjust="spacingAndGlyphs">Class Activation Mapping:</text>
<text class="bi" x="1011" y="1618" font-size="26" textLength="15" lengthAdjust="spacingAndGlyphs">K</text>
<text x="997" y="1681" font-size="78" textLength="43" lengthAdjust="spacingAndGlyphs">∑</text>
<text class="bi" x="996" y="1724" font-size="26" textLength="46" lengthAdjust="spacingAndGlyphs">k=1</text>
<text class="bi" x="828" y="1675" font-size="40" textLength="156" lengthAdjust="spacingAndGlyphs">M<tspan dy="6" font-size="26">c</tspan><tspan dy="-6">(x, y) =</tspan></text>
<text class="bi" x="1058" y="1677" font-size="40" textLength="38" lengthAdjust="spacingAndGlyphs">(w</text>
<text class="bi" x="1098" y="1660" font-size="24">k</text>
<text class="bi" x="1098" y="1688" font-size="24">c</text>
<text class="bi" x="1112" y="1677" font-size="40" textLength="141" lengthAdjust="spacingAndGlyphs">F<tspan dy="-14" font-size="24">lk</tspan><tspan dy="14">(x, y))</tspan></text>

<text class="i" x="952" y="1829" font-size="46" textLength="176" lengthAdjust="spacingAndGlyphs">Occlusion:</text>
<text class="bi" x="792" y="1912" font-size="40">Φ</text>
<text class="bi" x="820" y="1893" font-size="26" textLength="24" lengthAdjust="spacingAndGlyphs">p<tspan dy="5" font-size="18">i</tspan></text>
<text class="b" x="820" y="1932" font-size="40" textLength="141" lengthAdjust="spacingAndGlyphs">Occlusion</text>
<text class="bi" x="973" y="1918" font-size="40" textLength="362" lengthAdjust="spacingAndGlyphs">(f<tspan dy="6" font-size="26">c</tspan><tspan dy="-6">, x) = f</tspan><tspan dy="6" font-size="26">c</tspan><tspan dy="-6">(x) − f</tspan><tspan dy="6" font-size="26">c</tspan><tspan dy="-6">(x′</tspan><tspan dy="6" font-size="24">p</tspan><tspan font-size="18" dy="3">i</tspan><tspan dy="-9">)</tspan></text>

<text class="i" x="919" y="2068" font-size="46" textLength="252" lengthAdjust="spacingAndGlyphs">Shapley Values</text>
<text class="bi" x="675" y="2157" font-size="40" textLength="70" lengthAdjust="spacingAndGlyphs">φ<tspan dy="6" font-size="26">i</tspan><tspan dy="-6"> =</tspan></text>
<text x="777" y="2164" font-size="76" textLength="43" lengthAdjust="spacingAndGlyphs">∑</text>
<text class="i" x="755" y="2208" font-size="26" textLength="89" lengthAdjust="spacingAndGlyphs">S⊆F\{i}</text>
<text class="bi" x="860" y="2128" font-size="38" textLength="274" lengthAdjust="spacingAndGlyphs">|S|! (|F| − |S| − 1)!</text>
<rect x="857" y="2147" width="279" height="4"/>
<text class="bi" x="972" y="2184" font-size="38" textLength="49" lengthAdjust="spacingAndGlyphs">|F|!</text>
<text class="bi" x="1143" y="2159" font-size="38" textLength="345" lengthAdjust="spacingAndGlyphs">[f<tspan dy="6" font-size="24">S∪{i}</tspan><tspan dy="-6">(x</tspan><tspan dy="6" font-size="24">S∪{i}</tspan><tspan dy="-6">) − f</tspan><tspan dy="6" font-size="24">S</tspan><tspan dy="-6">(x</tspan><tspan dy="6" font-size="24">S</tspan><tspan dy="-6">)]</tspan></text>

<!-- XAI panel -->
<rect x="1619" y="995" width="628" height="1227" fill="#e6e6e6"/>
<rect x="1619" y="995" width="627" height="89" fill="#d0d0d0"/>
<text class="bi" x="1725" y="1055" font-size="46" textLength="413" lengthAdjust="spacingAndGlyphs">Explainable AI Methods</text>

<!-- Arrows to equation boxes -->
<line class="l" x1="1520" y1="1174" x2="1715" y2="1175"/><polygon points="1506,1174 1529,1162 1529,1186"/>
<line class="l" x1="1520" y1="1410" x2="1715" y2="1412"/><polygon points="1506,1410 1529,1398 1529,1422"/>
<line class="l" x1="1520" y1="1629" x2="1715" y2="1631"/><polygon points="1506,1629 1529,1617 1529,1641"/>
<line class="l" x1="1518" y1="1867" x2="1711" y2="1869"/><polygon points="1504,1867 1527,1855 1527,1879"/>
<line class="l" x1="1518" y1="2102" x2="1711" y2="2104"/><polygon points="1504,2102 1527,2090 1527,2114"/>

<!-- LIME images -->
<rect x="1717" y="1100" width="154" height="161" fill="#fff" stroke="#000" stroke-width="3"/>
<rect x="1719" y="1102" width="147" height="154" fill="#000"/>
<polyline points="1805,1104 1803,1114 1807,1121 1818,1124 1830,1133 1830,1147 1842,1146 1852,1131 1858,1140 1863,1153" fill="none" stroke="#8a8a1e" stroke-width="2"/>
<polyline points="1720,1133 1732,1141 1720,1163" fill="none" stroke="#8a8a1e" stroke-width="2"/>
<rect x="1870" y="1101" width="143" height="158" fill="#000" stroke="#888" stroke-width="1.5"/>
<polygon points="1870,1102 2013,1102 2013,1153 2004,1131 1982,1149 1973,1127 1941,1133 1928,1117 1883,1141 1870,1161" fill="#74f445"/>
<polygon points="1888,1102 1955,1102 1955,1127 1941,1135 1928,1117 1901,1133 1874,1131" fill="#ee3522"/>
<ellipse cx="1915" cy="1182" rx="8" ry="20" fill="#74f445"/>
<ellipse cx="1963" cy="1170" rx="10" ry="11" fill="#74f445"/>
<g fill="none" stroke="#ddd" stroke-width="3"><path d="M1871 1225 L1883 1256"/><path d="M1876 1225 L1886 1256" stroke-width="2"/><path d="M1992 1230 L1984 1256"/><path d="M1913 1248 v8"/><path d="M2000 1248 v8"/></g>
<path d="M1873 1175 Q1940 1290 2006 1185" fill="none" stroke="#2c2c2c" stroke-width="2"/>

<!-- Saliency images -->
<rect x="1716" y="1323" width="157" height="170" fill="#fdf4f0" stroke="#555" stroke-width="2"/>
<rect x="1874" y="1321" width="157" height="172" fill="#fdf4f0" stroke="#333" stroke-width="2"/>
<g clip-path="url(#cS1)">
<ellipse cx="1755" cy="1395" rx="18" ry="40" fill="#fad8cd" filter="url(#f8)"/>
<ellipse cx="1805" cy="1395" rx="22" ry="30" fill="#fbe3da" filter="url(#f8)"/>
<ellipse cx="1754" cy="1402" rx="6" ry="16" fill="#dc6e58" filter="url(#f3)" transform="rotate(-18 1754 1402)"/>
<ellipse cx="1807" cy="1403" rx="6" ry="4" fill="#f2b6a4" filter="url(#f1)"/>
</g>
<g clip-path="url(#cS2)">
<ellipse cx="1908" cy="1385" rx="16" ry="40" fill="#fad8cd" filter="url(#f8)"/>
<ellipse cx="1965" cy="1385" rx="18" ry="32" fill="#fbdfd5" filter="url(#f8)"/>
<ellipse cx="1910" cy="1443" rx="3" ry="13" fill="#e28a76" filter="url(#f1)" transform="rotate(-20 1910 1443)"/>
</g>

<!-- Grad CAM images -->
<rect x="1718" y="1538" width="159" height="167" fill="#8aab52"/>
<g clip-path="url(#cG1)">
<rect x="1700" y="1520" width="55" height="90" fill="#74b86e" filter="url(#f8)"/>
<rect x="1755" y="1530" width="55" height="60" fill="#8db862" filter="url(#f8)"/>
<ellipse cx="1780" cy="1558" rx="12" ry="10" fill="#a88a3e" filter="url(#f3)"/>
<rect x="1850" y="1530" width="40" height="120" fill="#8f7a40" filter="url(#f8)"/>
<rect x="1850" y="1620" width="40" height="80" fill="#8a5a3e" filter="url(#f8)"/>
<rect x="1700" y="1685" width="190" height="35" fill="#8f5f4a" filter="url(#f8)"/>
<rect x="1735" y="1565" width="105" height="100" fill="#74bf70" filter="url(#f14)"/>
<ellipse cx="1795" cy="1620" rx="27" ry="27" fill="#5ce2ea" filter="url(#f8)"/>
<ellipse cx="1867" cy="1695" rx="16" ry="14" fill="#42074c" filter="url(#f8)"/>
</g>
<rect x="1718" y="1538" width="159" height="167" fill="none" stroke="#444" stroke-width="2"/>
<rect x="1878" y="1538" width="155" height="167" fill="#48481e"/>
<g clip-path="url(#cG2)">
<rect x="1860" y="1520" width="60" height="110" fill="#35663e" filter="url(#f8)"/>
<rect x="1860" y="1675" width="190" height="40" fill="#3e2a22" filter="url(#f8)"/>
<ellipse cx="2018" cy="1692" rx="16" ry="14" fill="#2a0a33" filter="url(#f3)"/>
<ellipse cx="1950" cy="1630" rx="52" ry="34" fill="#2a7d72" filter="url(#f8)"/>
<ellipse cx="1958" cy="1605" rx="48" ry="34" fill="#8a9c80" filter="url(#f1)"/>
<ellipse cx="1958" cy="1576" rx="41" ry="36" fill="url(#tumG)" stroke="#4a6ac0" stroke-width="1.5"/>
<g fill="#bdeee8" filter="url(#f1)"><ellipse cx="1927" cy="1613" rx="7" ry="8"/><ellipse cx="1935" cy="1621" rx="6" ry="7"/><ellipse cx="1957" cy="1627" rx="11" ry="11"/><ellipse cx="1982" cy="1618" rx="7" ry="6"/><ellipse cx="1957" cy="1640" rx="9" ry="6"/></g>
<ellipse cx="2002" cy="1590" rx="4" ry="14" fill="#d0d088"/>
<path d="M1983 1635 L1998 1625" stroke="#d0d088" stroke-width="3"/>
<path d="M1887 1657 Q1888 1653 1910 1662 Q1943 1673 1977 1672 Q2010 1667 2033 1657" fill="none" stroke="#b8b890" stroke-width="1.5"/>
<path d="M1887 1660 Q1910 1677 1943 1685 Q1987 1687 2033 1668" fill="none" stroke="#8f8474" stroke-width="1.5"/>
</g>
<rect x="1878" y="1538" width="155" height="167" fill="none" stroke="#444" stroke-width="2"/>

<!-- Occlusion images -->
<rect x="1718" y="1774" width="164" height="166" fill="#1a0d2f" stroke="#444" stroke-width="2"/>
<rect x="1858" y="1775" width="10" height="164" fill="#fff"/>
<rect x="1868" y="1775" width="13" height="164" fill="url(#cbar)"/>
<ellipse cx="1790" cy="1835" rx="46" ry="50" fill="#34163e" filter="url(#f8)"/>
<ellipse cx="1810" cy="1860" rx="28" ry="20" fill="#120a1e" filter="url(#f3)"/>
<path d="M1770 1788 Q1752 1810 1756 1830" fill="none" stroke="#7a3a6a" stroke-width="3" filter="url(#f1)"/>
<g filter="url(#f1)"><ellipse cx="1762" cy="1858" rx="11" ry="20" fill="#e8744c"/><ellipse cx="1760" cy="1855" rx="6" ry="14" fill="#fde0c0"/><circle cx="1780" cy="1875" r="4" fill="#fde0c0"/><circle cx="1726" cy="1893" r="4" fill="#fff2d8"/></g>
<path d="M1728 1900 Q1740 1912 1760 1915 Q1790 1920 1810 1905" fill="none" stroke="#5a2a5a" stroke-width="3" filter="url(#f1)"/>
<rect x="1888" y="1774" width="152" height="174" fill="#1a0d2f" stroke="#555" stroke-width="2"/>
<rect x="2017" y="1775" width="9" height="171" fill="#fff"/>
<rect x="2026" y="1775" width="13" height="171" fill="url(#cbar)"/>
<ellipse cx="1960" cy="1835" rx="38" ry="42" fill="#241233" filter="url(#f8)"/>
<g fill="#d85a3c" filter="url(#f1)"><circle cx="1925" cy="1846" r="2"/><circle cx="1930" cy="1858" r="2"/><circle cx="1932" cy="1868" r="1.5"/></g>
<path d="M1897 1893 Q1900 1905 1915 1908" fill="none" stroke="#6a2a5a" stroke-width="2"/>

<!-- SHAP images -->
<rect x="1715" y="2006" width="166" height="174" fill="#050505" stroke="#555" stroke-width="2.5"/>
<g clip-path="url(#cH1)">
<ellipse cx="1803" cy="2072" rx="54" ry="50" fill="#b0b0b0" filter="url(#f1)"/>
<ellipse cx="1803" cy="2080" rx="44" ry="34" fill="#222" filter="url(#f1)"/>
<ellipse cx="1800" cy="2047" rx="43" ry="37" fill="#6a6a6a" stroke="#3535c0" stroke-width="2.5"/>
<g fill="#fff" filter="url(#f1)"><ellipse cx="1767" cy="2085" rx="7" ry="9"/><ellipse cx="1775" cy="2093" rx="6" ry="6"/><ellipse cx="1797" cy="2093" rx="9" ry="10"/><ellipse cx="1823" cy="2090" rx="8" ry="6"/><ellipse cx="1797" cy="2107" rx="11" ry="7"/><ellipse cx="1843" cy="2063" rx="4" ry="15"/><path d="M1825 2105 L1845 2092 L1847 2096 L1828 2108Z"/></g>
<path d="M1727 2127 Q1743 2140 1810 2145 Q1850 2143 1878 2127" fill="none" stroke="#aaa" stroke-width="1.5"/>
<path d="M1727 2130 Q1760 2153 1810 2160 Q1850 2157 1878 2138" fill="none" stroke="#888" stroke-width="1.5"/>
</g>
<rect x="1884" y="2009" width="160" height="169" fill="#dcdcdc" stroke="#555" stroke-width="2"/>
<g clip-path="url(#cH2)">
<ellipse cx="1963" cy="2055" rx="50" ry="60" fill="#e9e9e9" filter="url(#f3)"/>
<g fill="#fcfcfc" filter="url(#f1)"><ellipse cx="1935" cy="2085" rx="7" ry="9"/><ellipse cx="1943" cy="2093" rx="6" ry="6"/><ellipse cx="1965" cy="2093" rx="9" ry="10"/><ellipse cx="1991" cy="2090" rx="8" ry="6"/><ellipse cx="1965" cy="2107" rx="11" ry="7"/><ellipse cx="2009" cy="2063" rx="4" ry="15"/></g>
<path d="M1952 2012 q10 4 18 0" fill="none" stroke="#c0608a" stroke-width="4" filter="url(#f1)"/>
<path d="M2000 2025 l3 15" fill="none" stroke="#cf6f90" stroke-width="2" filter="url(#f1)"/>
<path d="M1895 2127 Q1911 2140 1978 2145 Q2018 2143 2044 2127" fill="none" stroke="#f2f2f2" stroke-width="1.5"/>
<path d="M1895 2130 Q1928 2153 1978 2160 Q2018 2157 2044 2138" fill="none" stroke="#efefef" stroke-width="1.5"/>
</g>

<!-- XAI labels -->
<text x="2095" y="1133" font-size="42" textLength="91" lengthAdjust="spacingAndGlyphs">LIME</text>
<text x="2078" y="1327" font-size="42" textLength="127" lengthAdjust="spacingAndGlyphs">Saliency</text>
<text x="2107" y="1378" font-size="42" textLength="68" lengthAdjust="spacingAndGlyphs">Map</text>
<text x="2093" y="1549" font-size="42" textLength="74" lengthAdjust="spacingAndGlyphs">Grad</text>
<text x="2089" y="1600" font-size="42" textLength="82" lengthAdjust="spacingAndGlyphs">CAM</text>
<text x="2063" y="1778" font-size="42" textLength="150" lengthAdjust="spacingAndGlyphs">Occlusion</text>
<text x="2073" y="1831" font-size="42" textLength="130" lengthAdjust="spacingAndGlyphs">Analysis</text>
<text x="2060" y="1994" font-size="42" textLength="157" lengthAdjust="spacingAndGlyphs">SHAP and</text>
<text x="2081" y="2046" font-size="42" textLength="114" lengthAdjust="spacingAndGlyphs">Smooth</text>
<text x="2101" y="2098" font-size="42" textLength="74" lengthAdjust="spacingAndGlyphs">Grad</text>

<!-- XAI bus -->
<polyline class="l" points="2032,1168 2225,1169 2226,2110 2057,2110"/>
<polygon points="2018,1168 2040,1156 2040,1181"/>
<line class="l" x1="2050" y1="1419" x2="2226" y2="1420"/><polygon points="2036,1419 2058,1407 2058,1431"/>
<line class="l" x1="2047" y1="1639" x2="2228" y2="1639"/><polygon points="2033,1639 2049,1627 2049,1651"/>
<line class="l" x1="2055" y1="1881" x2="2224" y2="1882"/><polygon points="2041,1881 2062,1868 2062,1893"/>
<polygon points="2043,2110 2060,2098 2060,2122"/>

<!-- Right arrows -->
<line class="l" x1="2262" y1="1293" x2="3057" y2="1294"/><polygon points="2247,1293 2269,1281 2269,1305"/>
<polyline class="l4" points="2263,1615 3038,1615 3038,1813 3458,1813 3458,1751"/>
<polygon points="2249,1614 2271,1602 2271,1626"/>
<text class="bi" x="2519" y="1244" font-size="40" textLength="353" lengthAdjust="spacingAndGlyphs">Fitted ResNet60 Model</text>
<text class="bi" x="2490" y="1531" font-size="40" textLength="106" lengthAdjust="spacingAndGlyphs">Output</text>
<text class="bi" x="2503" y="1584" font-size="40" textLength="79" lengthAdjust="spacingAndGlyphs">Class</text>
<text class="i" x="2621" y="1565" font-size="80" textLength="50" lengthAdjust="spacingAndGlyphs">y<tspan dy="8" font-size="56">i</tspan></text>

<!-- Grey panel -->
<rect x="3058" y="1193" width="483" height="578" rx="85" ry="88" fill="#bdbdbd" stroke="#6b6b6b" stroke-width="3"/>
<line class="l4" x1="3270" y1="1150" x2="3270" y2="1220"/><polygon points="3260,1212 3281,1212 3270,1236"/>
<g stroke="#f0c030" stroke-width="4">
<polygon points="3095,1240 3153,1306 3153,1584 3095,1515" fill="#cfc483"/>
<polygon points="3095,1240 3271,1240 3329,1306 3153,1306" fill="#fdf0ab"/>
<rect x="3153" y="1306" width="176" height="278" fill="#fdf0a5"/>
</g>
<g stroke="#93308f" stroke-width="4">
<polygon points="3186,1352 3234,1408 3234,1644 3186,1586" fill="url(#mpS)"/>
<polygon points="3186,1352 3329,1352 3378,1408 3234,1408" fill="#cfa8cd"/>
<rect x="3234" y="1408" width="144" height="236" fill="url(#mpF)"/>
</g>
<g stroke="#000" stroke-width="5">
<polygon points="3268,1446 3313,1500 3313,1700 3268,1647" fill="url(#flS)"/>
<polygon points="3268,1446 3404,1446 3448,1500 3313,1500" fill="#adadad"/>
<rect x="3313" y="1500" width="135" height="200" fill="url(#flF)"/>
</g>
<g stroke="#8a6a25" stroke-width="5">
<polygon points="3343,1546 3384,1595 3384,1750 3343,1699" fill="#a77426"/>
<polygon points="3343,1546 3469,1546 3511,1595 3384,1595" fill="#d8a347"/>
<rect x="3384" y="1595" width="127" height="155" fill="#cc8c2e"/>
</g>
<text class="b" x="3170" y="1288" font-size="38" textLength="85" lengthAdjust="spacingAndGlyphs">ReLU</text>
<text class="b" x="3170" y="1334" font-size="38" textLength="141" lengthAdjust="spacingAndGlyphs">activation</text>
<text class="b" x="3228" y="1398" font-size="38" textLength="129" lengthAdjust="spacingAndGlyphs">Avg Pool</text>
<text class="b" x="3310" y="1487" font-size="36" textLength="101" lengthAdjust="spacingAndGlyphs">Flatten</text>
<text class="b" x="3407" y="1676" font-size="36" textLength="85" lengthAdjust="spacingAndGlyphs">Dense</text>
</svg>
</body></html>
